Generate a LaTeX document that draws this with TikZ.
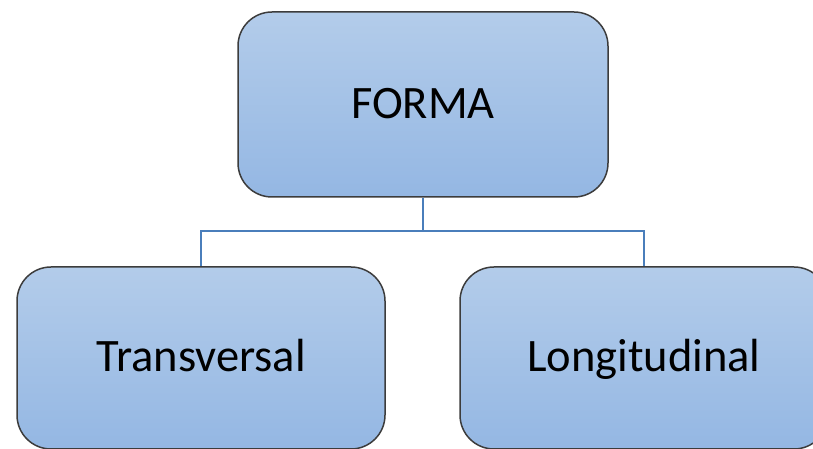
\documentclass[tikz,border=0pt]{standalone}
\usepackage{fontspec}
\setmainfont{Carlito}
\usepackage{tikz}
\usetikzlibrary{positioning}

\definecolor{boxtop}{HTML}{B3CCEA}
\definecolor{boxbot}{HTML}{94B7E3}
\definecolor{boxline}{HTML}{3C3C3C}
\definecolor{linkblue}{HTML}{4A7EBB}

\tikzset{
  formbox/.style={draw=boxline, line width=1.5pt, rounded corners=34pt,
    top color=boxtop, bottom color=boxbot, inner sep=0pt,
    text height=38pt, text depth=10pt,
    font=\fontsize{46.5}{50}\selectfont},
  link/.style={draw=linkblue, line width=1.9pt}
}

\begin{document}
\begin{tikzpicture}[x=1pt,y=1pt]
\useasboundingbox (0,0) rectangle (813,449);
\clip (0,0) rectangle (813,449);
% main box
\node[formbox, minimum width=370pt, minimum height=185pt] (forma) at (423,344.5) {FORMA};
% branches
\node[formbox, minimum width=368pt, minimum height=182pt] (trans) at (201,91) {Transversal};
\node[formbox, minimum width=368pt, minimum height=182pt] (longi) at (644,91) {Longitudinal};
\draw[link] (forma.south) -- ++(0,-33) coordinate (split) -| (trans.north);
\draw[link] (split) -| (longi.north);
\end{tikzpicture}
\end{document}
